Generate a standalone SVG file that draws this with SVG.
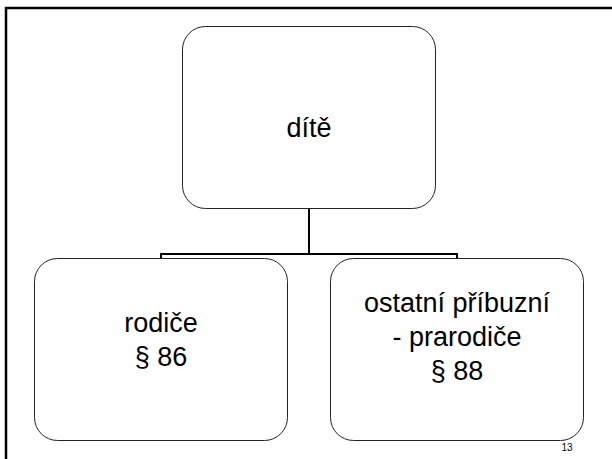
<svg xmlns="http://www.w3.org/2000/svg" width="612" height="459" viewBox="0 0 612 459">
<style>
.node rect{fill:#fff;stroke:#222;stroke-width:1}
.node text{font-family:"Liberation Sans",Arial,sans-serif;font-size:27px;fill:#000;text-anchor:middle}
#connectors path{fill:none;stroke:#000;stroke-width:2}
.pg{font-family:"Liberation Sans",Arial,sans-serif;font-size:10px;fill:#000;text-anchor:middle}
</style>
<rect x="0" y="0" width="612" height="459" fill="#fff"/>
<path d="M6 459 V8 H612" fill="none" stroke="#000" stroke-width="2.5"/>
<g id="connectors">
<path d="M309 208 V254 M161 258 V254 H457 V258"/>
</g>
<g id="node-dite" class="node">
<rect x="182.5" y="26.5" width="253" height="182" rx="23" ry="23"/>
<text x="309" y="137">dítě</text>
</g>
<g id="node-rodice" class="node">
<rect x="34.5" y="258.5" width="253" height="182" rx="23" ry="23"/>
<text x="161" y="332">rodiče</text>
<text x="161" y="366">§ 86</text>
</g>
<g id="node-ostatni" class="node">
<rect x="330.5" y="258.5" width="253" height="182" rx="23" ry="23"/>
<text x="457" y="312">ostatní příbuzní</text>
<text x="457" y="346">- prarodiče</text>
<text x="457" y="380">§ 88</text>
</g>
<text class="pg" x="567" y="451">13</text>
</svg>
